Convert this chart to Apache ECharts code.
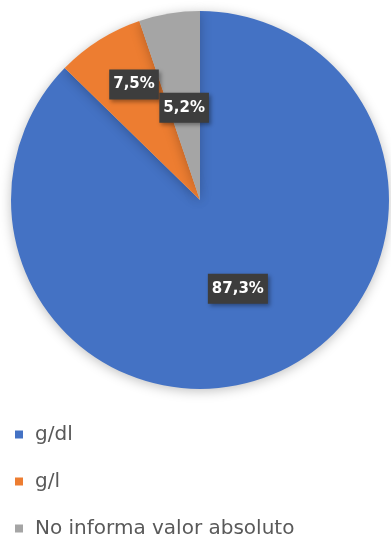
<!DOCTYPE html>
<html>
<head>
<meta charset="utf-8">
<script src="https://cdn.jsdelivr.net/npm/echarts@6/dist/echarts.min.js"></script>
<style>
  html, body { margin: 0; padding: 0; background: #fff; }
  #chart { width: 391px; height: 537px; }
</style>
</head>
<body>
<div id="chart"></div>
<script>
// Share of reports by hemoglobin unit
const categories = ['g/dl', 'g/l', 'No informa valor absoluto'];
const shares = [87.3, 7.5, 5.2];
const colors = ['#4472C4', '#ED7D31', '#A5A5A5'];
// Nudges for the small-slice labels so they sit clear of each other
const labelOffsets = [[0, -1], [-14, -33], [0, 4]];

const chart = echarts.init(document.getElementById('chart'), null, { renderer: 'canvas' });

const data = categories.map((name, i) => ({
  name,
  value: shares[i],
  itemStyle: { color: colors[i] },
  label: { offset: labelOffsets[i] }
}));

chart.setOption({
  animation: false,
  backgroundColor: '#ffffff',
  legend: {
    orient: 'vertical',
    left: 15,
    top: 424,
    height: 200,
    padding: 0,
    itemWidth: 8,
    itemHeight: 8,
    itemGap: 26,
    icon: 'rect',
    data: categories,
    textStyle: {
      color: '#595959',
      fontSize: 20,
      lineHeight: 21,
      fontFamily: 'DejaVu Sans, sans-serif',
      padding: [0, 0, 0, 7]
    }
  },
  series: [{
    type: 'pie',
    center: [200, 200],
    radius: [0, 189],
    startAngle: 90,
    clockwise: true,
    avoidLabelOverlap: false,
    itemStyle: {
      shadowBlur: 12,
      shadowOffsetY: 2,
      shadowColor: 'rgba(0,0,0,0.25)'
    },
    label: {
      show: true,
      position: 'inside',
      formatter: p => p.value.toFixed(1).replace('.', ',') + '%',
      color: '#ffffff',
      fontSize: 15,
      fontWeight: 'bold',
      fontFamily: 'DejaVu Sans, sans-serif',
      backgroundColor: '#3d3d3d',
      padding: [8, 4, 7, 4],
      shadowBlur: 4,
      shadowOffsetX: 2,
      shadowOffsetY: 2,
      shadowColor: 'rgba(0,0,0,0.35)'
    },
    labelLine: { show: false },
    emphasis: { disabled: true },
    data
  }]
});
</script>
</body>
</html>
